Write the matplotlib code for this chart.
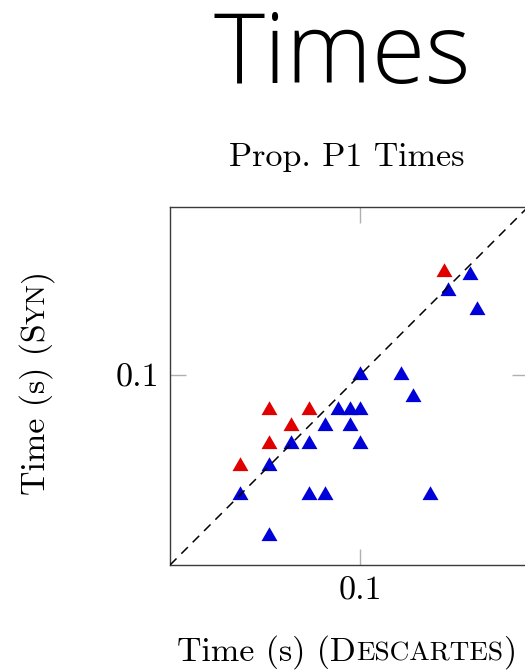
import matplotlib.pyplot as plt
from matplotlib.transforms import IdentityTransform

plt.rcParams['font.family'] = ['cmr10', 'DejaVu Serif']
plt.rcParams['axes.formatter.use_mathtext'] = True

# times in seconds, Descartes (x) vs Syn (y)
red_x = [0.03, 0.04, 0.04, 0.05, 0.06, 0.23]
red_y = [0.04, 0.05, 0.07, 0.06, 0.07, 0.28]

blue_x = [0.04, 0.03, 0.06, 0.07, 0.20, 0.04, 0.05, 0.06, 0.10, 0.07, 0.09,
          0.08, 0.09, 0.10, 0.17, 0.10, 0.15, 0.32, 0.24, 0.30]
blue_y = [0.02, 0.03, 0.03, 0.03, 0.03, 0.04, 0.05, 0.05, 0.05, 0.06, 0.06,
          0.07, 0.07, 0.07, 0.08, 0.10, 0.10, 0.19, 0.23, 0.27]

lims = [0.0149, 0.535]
ticks = [0.1]
tick_labels = ['0.1']

FS = 24.5
fig = plt.figure(figsize=(5.25, 6.7), dpi=100)
ax = fig.add_axes([170 / 525, 105 / 670, 358 / 525, 358 / 670])
ax.set_xscale('log')
ax.set_yscale('log')

mk = dict(marker=(3, 0, 0), markersize=13.3, linestyle='none', markeredgewidth=0)
ax.plot(red_x, red_y, color='#e00000', **mk)
ax.plot(blue_x, blue_y, color='#0000d8', **mk)
ax.plot(lims, lims, color='black', lw=1.1, linestyle=(0, (6, 4.5)), zorder=5)

ax.set_xlim(lims)
ax.set_ylim(lims)
ax.set_xticks(ticks, tick_labels)
ax.set_yticks(ticks, tick_labels)
ax.minorticks_off()
ax.tick_params(direction='in', length=11.5, width=1, color='#b0b0b0',
               top=True, right=True, labelsize=FS, pad=8)
for sp in ax.spines.values():
    sp.set_color('#3a3a3a')
    sp.set_linewidth(1)

fig.text(342 / 525, 587 / 670, 'Times', ha='center', va='baseline',
         fontsize=70, family='Open Sans', fontweight='light')
fig.text(347 / 525, 504 / 670, 'Prop. P1 Times', ha='center', va='baseline',
         fontsize=FS)


def caps_label(cx, base, parts, vertical=False):
    # fake small caps: pieces of different size laid along one baseline
    r = fig.canvas.get_renderer()
    texts = []
    for s, size in parts:
        t = fig.text(0, 0, s, fontsize=size, rotation=90 if vertical else 0,
                     rotation_mode='anchor', ha='left', va='baseline',
                     transform=IdentityTransform())
        bb = t.get_window_extent(r)
        texts.append((t, bb.height if vertical else bb.width))
    pos = cx - sum(w for _, w in texts) / 2
    for t, w in texts:
        t.set_position((base, pos) if vertical else (pos, base))
        pos += w


sc = FS * 0.8
caps_label(346.5, 9.3, [('Time (s) (D', FS), ('ESCARTES', sc), (')', FS)])
caps_label(287.5, 45, [('Time (s) (S', FS), ('YN', sc), (')', FS)], vertical=True)

fig.savefig('out.png', dpi=100)
